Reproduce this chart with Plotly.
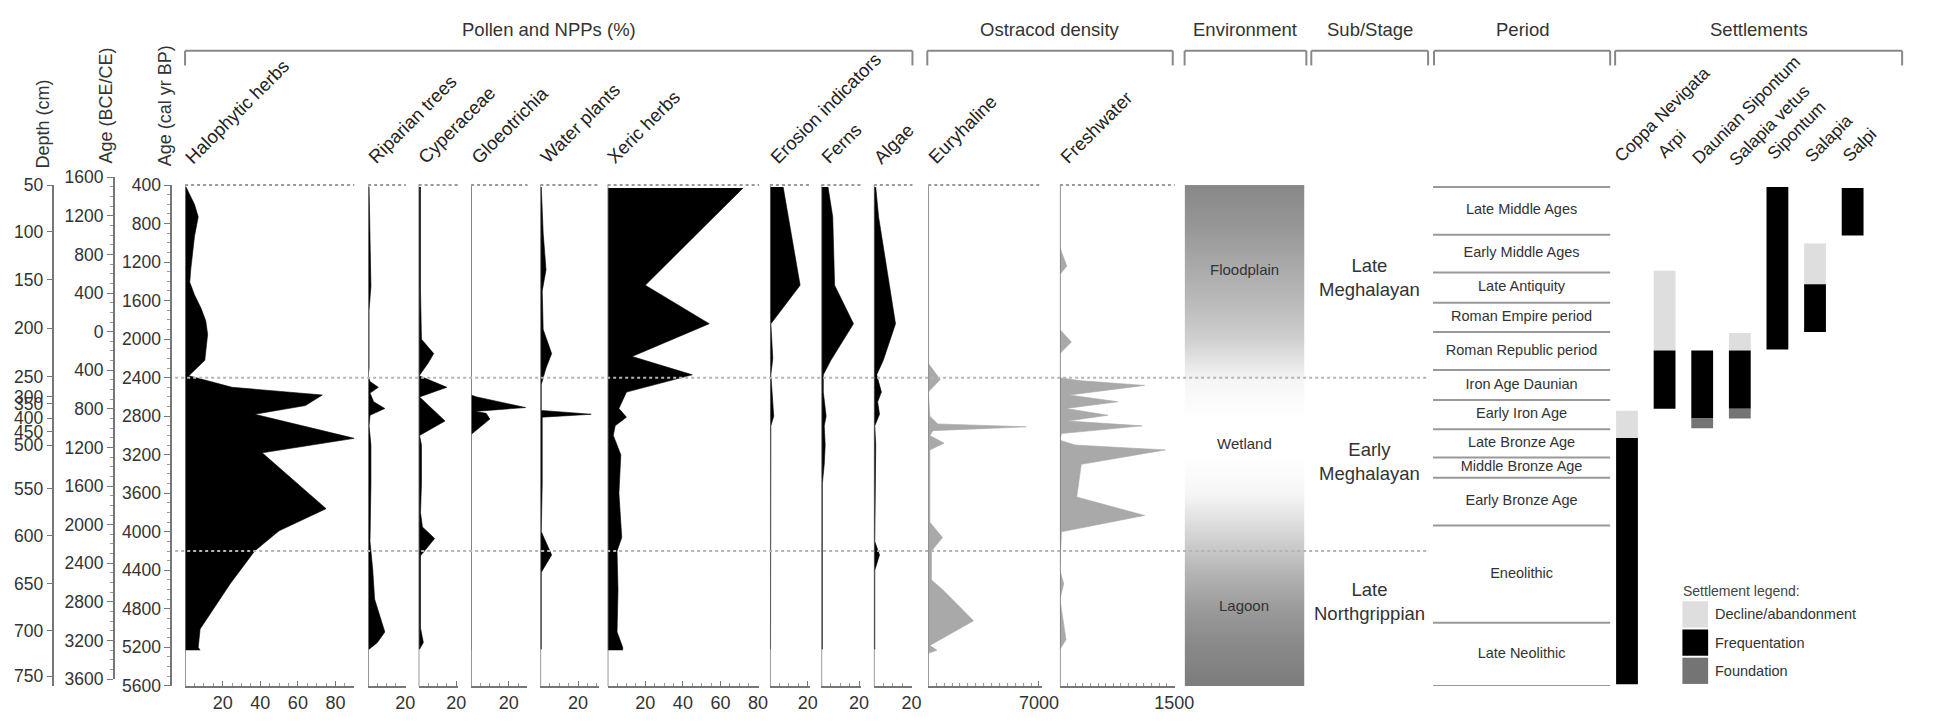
import plotly.graph_objects as go

# reference page size (all geometry below is expressed as fractions of it; figure fills the window)
PW, PH = 1933, 727
FONT = "Arial, Liberation Sans, sans-serif"

# ---------------- DATA (ages in cal yr BP) ----------------
halo_bp  = [420, 600, 730, 935, 1280, 1410, 1540, 1680, 1810, 1950, 2220, 2290, 2380, 2500, 2580, 2690, 2780, 3030, 3180, 3760, 3990, 4200, 4540, 5010, 5200, 5230]
halo_val = [0.5, 5, 7, 5, 3, 2.5, 5, 8.5, 11, 12, 10.5, 7, 2, 25, 73, 64, 37, 90, 41, 75, 50, 37, 24, 8, 7, 8]

rip_bp  = [420, 1000, 1280, 1450, 1700, 2300, 2380, 2440, 2500, 2560, 2650, 2720, 2790, 2900, 3100, 3500, 4100, 4400, 4700, 5040, 5150, 5220]
rip_val = [0.5, 1, 1.5, 1.5, 0.5, 0.5, 0, 1, 5.5, 1, 3, 9, 1, 0.5, 1.5, 1.5, 1, 2.5, 3.5, 9, 5, 0.5]

cyp_bp  = [420, 1500, 2000, 2150, 2250, 2380, 2500, 2600, 2850, 3000, 3100, 3500, 3800, 3950, 4070, 4250, 4600, 5000, 5150, 5220]
cyp_val = [1, 1, 1.5, 8, 5, 0.3, 15, 0.5, 14, 0.5, 1.5, 1.5, 1, 2, 8.5, 1, 1, 1, 2.5, 0.5]

glo_bp  = [420, 2580, 2600, 2710, 2750, 2770, 2830, 2990, 5220]
glo_val = [0, 0, 3, 29, 2, 8, 10, 0, 0]

wat_bp  = [420, 900, 1280, 1500, 1900, 2150, 2300, 2470, 2740, 2780, 2810, 3000, 3500, 4000, 4240, 4420, 5220]
wat_val = [0.5, 1.5, 3, 1, 1.5, 6, 3, 0.5, 0.5, 27, 1, 1, 1, 0.5, 6, 0.5, 0.5]

xer_bp  = [430, 1440, 1840, 2180, 2370, 2550, 2720, 2810, 2900, 3000, 3200, 3600, 4060, 4200, 4600, 5040, 5200, 5230]
xer_val = [72, 20, 54, 13, 45, 10, 6, 10, 4, 3, 7, 6, 7.5, 5, 5.5, 5, 8, 8]

ero_bp  = [420, 1440, 1840, 2200, 2370, 2800, 2900, 5220]
ero_val = [7, 16, 0.5, 1.5, 0.5, 2, 0.5, 0.3]

fer_bp  = [420, 730, 1440, 1840, 2220, 2370, 2550, 2800, 2900, 3100, 3300, 3500, 5220]
fer_val = [3.5, 6, 7, 17, 5, 1, 1, 2.5, 1.5, 2, 1.5, 0.5, 0.5]

alg_bp  = [420, 730, 1840, 2220, 2370, 2550, 2650, 2780, 2900, 3100, 4100, 4240, 4400, 5220]
alg_val = [1, 2.5, 11.5, 5, 1.5, 4, 2, 3, 0.5, 1, 0.5, 3, 0.5, 0.5]

eur_bp  = [420, 2250, 2420, 2500, 2550, 2800, 2880, 2910, 2950, 3000, 3080, 3150, 3900, 4060, 4200, 4500, 4600, 4925, 5180, 5230, 5260]
eur_val = [0, 0, 750, 300, 0, 100, 600, 6200, 300, 100, 1000, 100, 100, 900, 200, 200, 900, 2860, 100, 550, 0]

fre_bp  = [420, 1050, 1240, 1330, 1900, 2030, 2150, 2400, 2430, 2480, 2580, 2650, 2720, 2790, 2850, 2900, 2980, 3050, 3100, 3150, 3300, 3640, 3830, 4000, 4400, 4540, 4700, 5120, 5220]
fre_val = [0, 0, 90, 0, 0, 150, 0, 0, 250, 1110, 120, 760, 80, 630, 100, 1080, 20, 0, 200, 1380, 280, 220, 1110, 20, 0, 50, 0, 80, 0]

series_names = ["Halophytic herbs", "Riparian trees", "Cyperaceae", "Gloeotrichia", "Water plants",
                "Xeric herbs", "Erosion indicators", "Ferns", "Algae", "Euryhaline", "Freshwater"]

# left axes
calbp_ticks = [400, 800, 1200, 1600, 2000, 2400, 2800, 3200, 3600, 4000, 4400, 4800, 5200, 5600]
ce_ticks = [1600, 1200, 800, 400, 0, -400, -800, -1200, -1600, -2000, -2400, -2800, -3200, -3600]
depth_cm = [50, 100, 150, 200, 250, 300, 350, 400, 450, 500, 550, 600, 650, 700, 750]
depth_bp = [400, 885, 1380, 1885, 2390, 2600, 2670, 2820, 2960, 3100, 3550, 4040, 4540, 5030, 5500]

# zone boundaries (dotted lines)
zone_bp = [2400, 4200]

# environment (grey level 0-255 along the core)
env_bp   = [400, 800, 1200, 1600, 2000, 2400, 2800, 3200, 3600, 4000, 4400, 4800, 5200, 5600]
env_grey = [136, 150, 168, 186, 208, 245, 255, 255, 246, 214, 182, 154, 136, 124]
env_names = ["Floodplain", "Wetland", "Lagoon"]
env_label_bp = [1280, 3080, 4770]

# sub/stage
stage_names = ["Late<br>Meghalayan", "Early<br>Meghalayan", "Late<br>Northgrippian"]
stage_bp = [1360, 3270, 4720]

# periods
period_bounds = [420, 915, 1309, 1622, 1925, 2319, 2632, 2935, 3228, 3440, 3935, 4945, 5600]
period_names = ["Late Middle Ages", "Early Middle Ages", "Late Antiquity", "Roman Empire period",
                "Roman Republic period", "Iron Age Daunian", "Early Iron Age", "Late Bronze Age",
                "Middle Bronze Age", "Early Bronze Age", "Eneolithic", "Late Neolithic"]

# settlements
settlements = ["Coppa Nevigata", "Arpi", "Daunian Sipontum", "Salapia vetus", "Sipontum", "Salapia", "Salpi"]
decline_start = [2743, 1289, None, 1935, None, 1006, None]
decline_end   = [3026, 2117, None, 2117, None, 1430, None]
freq_start    = [3026, 2117, 2117, 2117, 420, 1430, 430]
freq_end      = [5582, 2723, 2824, 2723, 2107, 1925, 925]
found_start   = [None, None, 2824, 2723, None, None, None]
found_end     = [None, None, 2925, 2824, None, None, None]
status_names  = ["Decline/abandonment", "Frequentation", "Foundation"]
status_colors = ["#dedede", "#000000", "#747474"]

headers = ["Pollen and NPPs (%)", "Ostracod density", "Environment", "Sub/Stage", "Period", "Settlements"]

# ---------------- LAYOUT GEOMETRY (reference pixels) ----------------
def fx(p):
    return p / PW

def fy(p):
    return 1 - p / PH

TOP, BOT = 180, 695
ydom = [fy(BOT), fy(TOP)]
panel_geom = [  # x0, x1, range max, labelled ticks, minor dtick
    (187, 358, 90, [20, 40, 60, 80], 5),
    (372, 410, 20.3, [20], 5),
    (423, 463, 21, [20], 5),
    (476, 533, 30, [20], 5),
    (546, 605, 31, [20], 5),
    (614, 767, 80.5, [20, 40, 60, 80], 5),
    (778, 818, 21, [20], 5),
    (830, 870, 21, [20], 5),
    (883, 922, 20.5, [20], 5),
    (938, 1053, 7200, [7000], 500),
    (1071, 1187, 1505, [1500], 100),
]
bracket_geom = [(187, 922), (937, 1185), (1197, 1320), (1325, 1443), (1449, 1627), (1632, 1922)]
settle_label_bottom = [163, 159, 165, 167, 160, 163, 163]
settle_label_shift = [-19, -14, -17, -17, -17, -17, -17]

series = [(halo_bp, halo_val), (rip_bp, rip_val), (cyp_bp, cyp_val), (glo_bp, glo_val), (wat_bp, wat_val),
          (xer_bp, xer_val), (ero_bp, ero_val), (fer_bp, fer_val), (alg_bp, alg_val),
          (eur_bp, eur_val), (fre_bp, fre_val)]

fig = go.Figure()
layout = dict(
    autosize=True, margin=dict(l=0, r=0, t=0, b=0, pad=0),
    paper_bgcolor="white", plot_bgcolor="rgba(0,0,0,0)", showlegend=False,
    font=dict(family=FONT, size=16, color="#222"), barmode="overlay",
)
shapes = []
annotations = []
AX = "#777"
TICKF = dict(size=17.5, color="#333")

# main cal BP axis
layout["yaxis"] = dict(domain=ydom, range=[5600, 400], anchor="free", position=fx(173), side="left",
                       tickmode="array", tickvals=calbp_ticks, ticktext=[str(v) for v in calbp_ticks],
                       ticks="outside", ticklen=6, tickcolor=AX, showline=True, linecolor=AX, linewidth=1.5,
                       showgrid=False, zeroline=False, tickfont=TICKF,
                       minor=dict(dtick=100, tick0=0, ticks="outside", ticklen=3, tickcolor="#999"))
# depth axis
layout["yaxis2"] = dict(overlaying="y", range=[5600, 400], anchor="free", position=fx(54), side="left",
                        tickmode="array", tickvals=depth_bp, ticktext=[str(v) for v in depth_cm],
                        ticks="outside", ticklen=6, tickcolor=AX, showline=True, linecolor=AX, linewidth=1.5,
                        showgrid=False, zeroline=False, tickfont=TICKF)
# BCE/CE axis
layout["yaxis3"] = dict(domain=[fy(688), fy(172)], range=[-3600, 1600], anchor="free", position=fx(115),
                        side="left", tickmode="array", tickvals=ce_ticks, ticktext=[str(abs(v)) for v in ce_ticks],
                        ticks="outside", ticklen=6, tickcolor=AX, showline=True, linecolor=AX, linewidth=1.5,
                        showgrid=False, zeroline=False, tickfont=TICKF,
                        minor=dict(dtick=100, tick0=0, ticks="outside", ticklen=3, tickcolor="#999"))

# dummy traces so the free axes are drawn
fig.add_trace(go.Scatter(x=[0], y=[400], xaxis="x", yaxis="y2", mode="markers",
                         marker=dict(opacity=0), hoverinfo="skip", showlegend=False))
fig.add_trace(go.Scatter(x=[0], y=[0], xaxis="x", yaxis="y3", mode="markers",
                         marker=dict(opacity=0), hoverinfo="skip", showlegend=False))

# axis titles
for txt, xp, yb in [("Depth (cm)", 43, 165), ("Age (BCE/CE)", 107, 160), ("Age (cal yr BP)", 167, 163)]:
    annotations.append(dict(text=txt, xref="paper", yref="paper", x=fx(xp), y=fy(yb), xanchor="center",
                            yanchor="bottom", textangle=-90, showarrow=False, font=dict(size=18, color="#333")))

# pollen & ostracod panels
for i, ((bp, val), geom, name) in enumerate(zip(series, panel_geom, series_names)):
    n = i + 1
    x0, x1, xmax, tv, mdt = geom
    key = "xaxis" if n == 1 else "xaxis%d" % n
    ref = "x" if n == 1 else "x%d" % n
    color = "#000000" if i < 9 else "#a9a9a9"
    layout[key] = dict(domain=[fx(x0), fx(x1)], range=[0, xmax], anchor="y", side="bottom",
                       tickmode="array", tickvals=tv, ticktext=[str(v) for v in tv],
                       ticks="inside", ticklen=5, tickcolor=AX, showline=True, linecolor=AX, linewidth=1.5,
                       showgrid=False, zeroline=False, tickfont=dict(size=18, color="#333"),
                       minor=dict(dtick=mdt, tick0=0, ticks="inside", ticklen=3, tickcolor="#999"))
    fig.add_trace(go.Scatter(x=val, y=bp, xaxis=ref, yaxis="y", mode="lines", fill="tozerox",
                             fillcolor=color, line=dict(color=color, width=0.6), hoverinfo="skip",
                             showlegend=False, name=name))
    # baseline and dotted top line
    shapes.append(dict(type="line", xref=ref, yref="paper", x0=0, x1=0, y0=fy(BOT), y1=fy(TOP),
                       line=dict(color=AX, width=1.5)))
    shapes.append(dict(type="line", xref=ref + " domain", yref="paper", x0=0, x1=1, y0=fy(TOP), y1=fy(TOP),
                       line=dict(color="#999", width=2, dash="dot")))
    annotations.append(dict(text=name, xref=ref, yref="paper", x=0, y=fy(165), xanchor="left", yanchor="bottom",
                            xshift=-7, textangle=-45, showarrow=False, font=dict(size=18.5, color="#222")))

# environment column (heatmap gradient)
layout["xaxis12"] = dict(domain=[fx(1197), fx(1318)], range=[-0.5, 1.5], anchor="y", visible=False)
fig.add_trace(go.Heatmap(x=[0, 1], y=env_bp, z=[[g, g] for g in env_grey], xaxis="x12", yaxis="y",
                         zmin=0, zmax=255, zsmooth="best", showscale=False, hoverinfo="skip",
                         colorscale=[[0, "rgb(0,0,0)"], [1, "rgb(255,255,255)"]]))
for nm, bp in zip(env_names, env_label_bp):
    annotations.append(dict(text=nm, xref="x12", yref="y", x=0.5, y=bp, xanchor="center", showarrow=False,
                            font=dict(size=15, color="#333")))

# sub/stage
for nm, bp in zip(stage_names, stage_bp):
    annotations.append(dict(text=nm, xref="paper", yref="y", x=fx(1384), y=bp, xanchor="center",
                            yanchor="middle", showarrow=False, align="center", font=dict(size=18.5, color="#333")))

# periods
layout["xaxis13"] = dict(domain=[fx(1448), fx(1627)], range=[0, 1], anchor="y", visible=False)
for b in period_bounds:
    shapes.append(dict(type="line", xref="x13 domain", yref="y", x0=0, x1=1, y0=b, y1=b,
                       line=dict(color="#999", width=2)))
mids = [(a + b) / 2 for a, b in zip(period_bounds[:-1], period_bounds[1:])]
fig.add_trace(go.Scatter(x=[0.5] * len(mids), y=mids, text=period_names, mode="text", xaxis="x13", yaxis="y",
                         textfont=dict(size=14.5, color="#333", family=FONT), hoverinfo="skip", showlegend=False))

# settlements
layout["xaxis14"] = dict(domain=[fx(1625), fx(1891)], type="category", categoryorder="array",
                         categoryarray=settlements, range=[-0.5, 6.5], anchor="y", visible=False)
for starts, ends, col, sname in [(decline_start, decline_end, status_colors[0], status_names[0]),
                                 (freq_start, freq_end, status_colors[1], status_names[1]),
                                 (found_start, found_end, status_colors[2], status_names[2])]:
    xs, bases, lens = [], [], []
    for s, a, b in zip(settlements, starts, ends):
        if a is not None:
            xs.append(s)
            bases.append(a)
            lens.append(b - a)
    fig.add_trace(go.Bar(x=xs, y=lens, base=bases, width=0.58, marker=dict(color=col, line=dict(width=0)),
                         xaxis="x14", yaxis="y", name=sname, hoverinfo="skip", showlegend=False))
for s, yb, sh in zip(settlements, settle_label_bottom, settle_label_shift):
    annotations.append(dict(text=s, xref="x14", yref="paper", x=s, y=fy(yb), xanchor="left", yanchor="bottom",
                            xshift=sh, textangle=-45, showarrow=False, font=dict(size=17.5, color="#222")))

# settlement legend (drawn)
annotations.append(dict(text="Settlement legend:", xref="paper", yref="paper", x=fx(1699), y=fy(597),
                        xanchor="left", yanchor="middle", showarrow=False, font=dict(size=14, color="#444")))
leg_rows = [(608, 635), (637, 664), (666, 693)]
for (t, b), nm, col in zip(leg_rows, status_names, status_colors):
    shapes.append(dict(type="rect", xref="paper", yref="paper", x0=fx(1700), x1=fx(1726), y0=fy(b), y1=fy(t),
                       fillcolor=col, line=dict(width=0)))
    annotations.append(dict(text=nm, xref="paper", yref="paper", x=fx(1731), y=fy((t + b) / 2),
                            xanchor="left", yanchor="middle", showarrow=False, font=dict(size=14.5, color="#333")))

# zone dotted lines
for z in zone_bp:
    shapes.append(dict(type="line", xref="paper", yref="y", x0=fx(177), x1=fx(1443), y0=z, y1=z,
                       line=dict(color="#b5b5b5", width=2, dash="dot"), layer="above"))

# headers with brackets
for txt, (a, b) in zip(headers, bracket_geom):
    annotations.append(dict(text=txt, xref="paper", yref="paper", x=fx((a + b) / 2), y=fy(20),
                            xanchor="center", yanchor="middle", showarrow=False, font=dict(size=18.5, color="#333")))
    shapes.append(dict(type="line", xref="paper", yref="paper", x0=fx(a), x1=fx(b), y0=fy(42), y1=fy(42),
                       line=dict(color="#888", width=2)))
    for xx in (a, b):
        shapes.append(dict(type="line", xref="paper", yref="paper", x0=fx(xx), x1=fx(xx), y0=fy(42), y1=fy(57),
                           line=dict(color="#888", width=2)))

layout["shapes"] = shapes
layout["annotations"] = annotations
fig.update_layout(**layout)

fig.write_html("out.html", config={"displayModeBar": False, "responsive": True},
               default_width="100vw", default_height="100vh",
               post_script="document.documentElement.style.margin='0';document.documentElement.style.overflow='hidden';"
                           "document.body.style.margin='0';document.body.style.overflow='hidden';")
